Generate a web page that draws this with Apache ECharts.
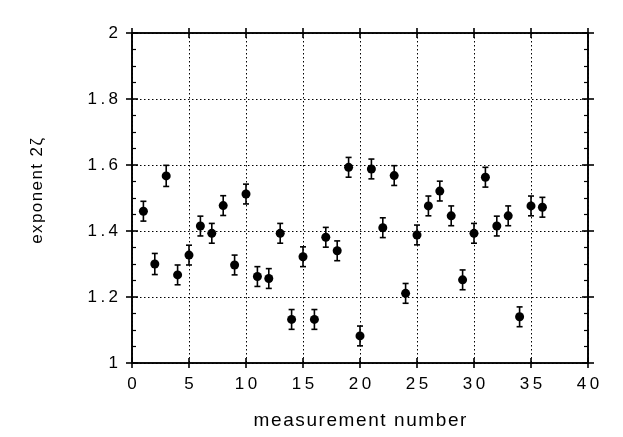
<!DOCTYPE html>
<html>
<head>
<meta charset="utf-8">
<script src="https://cdn.jsdelivr.net/npm/echarts@6/dist/echarts.min.js"></script>
<style>
    html, body { margin: 0; padding: 0; background: #fff; }
    #chart { width: 623px; height: 437px; }
</style>
</head>
<body>
<div id="chart"></div>
<script>
    // measurement numbers
    var measurements = [1, 2, 3, 4, 5, 6, 7, 8, 9, 10, 11, 12, 13, 14, 15, 16, 17, 18,
        19, 20, 21, 22, 23, 24, 25, 26, 27, 28, 29, 30, 31, 32, 33, 34, 35, 36];
    // exponent 2zeta
    var exponents = [1.46, 1.30, 1.567, 1.267, 1.327, 1.415, 1.393, 1.477, 1.297, 1.512,
        1.262, 1.256, 1.393, 1.132, 1.322, 1.132, 1.381, 1.340, 1.593, 1.082,
        1.588, 1.41, 1.568, 1.211, 1.388, 1.476, 1.521, 1.446, 1.252, 1.393,
        1.563, 1.415, 1.446, 1.14, 1.476, 1.472];
    // error bar half heights
    var errors = [0.03, 0.032, 0.032, 0.03, 0.03, 0.03, 0.03, 0.03, 0.03, 0.03,
        0.03, 0.03, 0.03, 0.03, 0.03, 0.03, 0.03, 0.03, 0.03, 0.03,
        0.03, 0.03, 0.03, 0.03, 0.03, 0.03, 0.03, 0.03, 0.03, 0.03,
        0.03, 0.03, 0.03, 0.03, 0.03, 0.03];
    var xTicks = [0, 5, 10, 15, 20, 25, 30, 35, 40];
    var yTicks = [1, 1.2, 1.4, 1.6, 1.8, 2];

    var points = [];
    var bars = [];
    for (var i = 0; i < measurements.length; i++) {
        points.push([measurements[i], exponents[i]]);
        bars.push([measurements[i], exponents[i] - errors[i], exponents[i] + errors[i]]);
    }

    var font = 'Liberation Sans, Arial, Helvetica, sans-serif';
    function spaced(v) {
        return String(v).split('').join('\u2009');
    }
    function loose(s) {
        return s.split('').join('\u200A');
    }
    var black = '#000';
    var dotted = { color: black, width: 1, type: [1.5, 2.5] };

    function xAx(pos, inside, main) {
        return {
            type: 'value', position: pos, min: xTicks[0], max: xTicks[xTicks.length - 1], interval: 5,
            axisLine: { show: true, onZero: false, lineStyle: { color: black, width: 1.6 } },
            axisTick: { show: true, inside: inside, length: 5, lineStyle: { color: black, width: 1.6 } },
            axisLabel: {
                show: main, margin: 13, color: black, fontSize: 17, fontFamily: font,
                formatter: spaced
            },
            splitLine: { show: main, lineStyle: dotted },
            name: main ? loose('measurement number') : '',
            nameLocation: 'middle', nameGap: 48,
            nameTextStyle: { color: black, fontSize: 19, fontFamily: font }
        };
    }
    function yAx(pos, inside, main, minor) {
        return {
            type: 'value', position: pos, min: yTicks[0], max: yTicks[yTicks.length - 1], interval: 0.2,
            axisLine: { show: true, onZero: false, lineStyle: { color: black, width: 1.6 } },
            axisTick: { show: true, inside: inside, length: 6, lineStyle: { color: black, width: 1.6 } },
            minorTick: { show: minor, splitNumber: 4, length: 4, lineStyle: { color: black, width: 1.2 } },
            axisLabel: {
                show: main, margin: 14, color: black, fontSize: 17, fontFamily: font,
                formatter: spaced
            },
            splitLine: { show: main, lineStyle: dotted },
            // leading spaces push the rotated title a little upward, as in the original
            name: main ? '   ' + loose('exponent 2ζ') : '',
            nameLocation: 'middle', nameGap: 86, nameRotate: 90,
            nameTextStyle: { color: black, fontSize: 17, fontFamily: font }
        };
    }

    var chart = echarts.init(document.getElementById('chart'));
    chart.setOption({
        backgroundColor: '#fff',
        animation: false,
        grid: { left: 132, right: 35, top: 33, bottom: 74 },
        xAxis: [
            xAx('bottom', false, true),
            xAx('bottom', true, false),
            xAx('top', false, false),
            xAx('top', true, false)
        ],
        yAxis: [
            yAx('left', false, true, false),
            yAx('left', true, false, true),
            yAx('right', false, false, false),
            yAx('right', true, false, true)
        ],
        series: [
            {
                type: 'custom',
                xAxisIndex: 0, yAxisIndex: 0,
                data: bars,
                encode: { x: 0, y: [1, 2] },
                renderItem: function (params, api) {
                    var lo = api.coord([api.value(0), api.value(1)]);
                    var hi = api.coord([api.value(0), api.value(2)]);
                    var cap = 3;
                    var st = { stroke: black, lineWidth: 1.6 };
                    return {
                        type: 'group',
                        children: [
                            { type: 'line', shape: { x1: lo[0], y1: lo[1], x2: hi[0], y2: hi[1] }, style: st },
                            { type: 'line', shape: { x1: lo[0] - cap, y1: lo[1], x2: lo[0] + cap, y2: lo[1] }, style: st },
                            { type: 'line', shape: { x1: hi[0] - cap, y1: hi[1], x2: hi[0] + cap, y2: hi[1] }, style: st }
                        ]
                    };
                },
                z: 3
            },
            {
                type: 'scatter',
                xAxisIndex: 0, yAxisIndex: 0,
                data: points,
                symbol: 'circle',
                symbolSize: 9,
                itemStyle: { color: black, opacity: 1 },
                z: 4
            }
        ]
    });
</script>
</body>
</html>
